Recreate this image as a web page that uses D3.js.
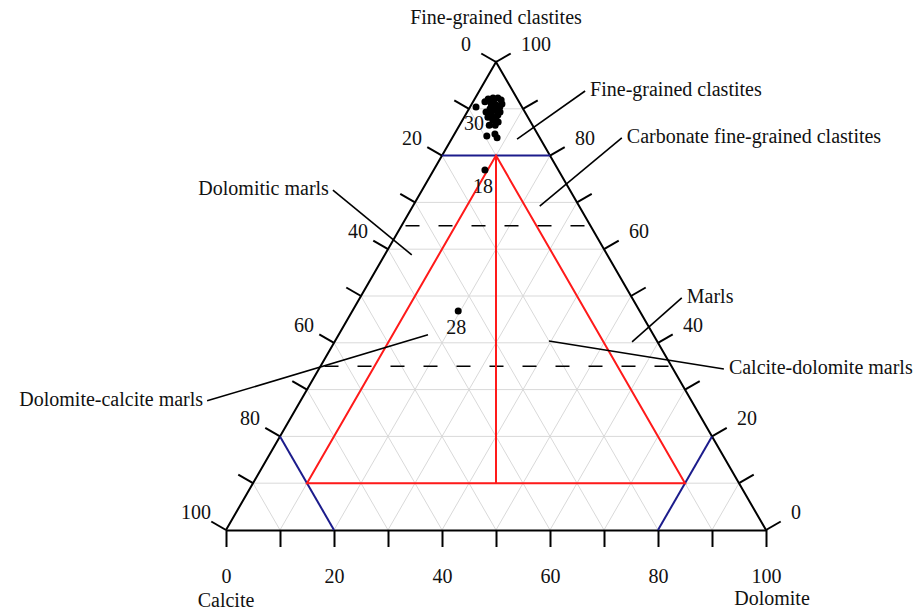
<!DOCTYPE html>
<html>
<head>
<meta charset="utf-8">
<script src="https://cdn.jsdelivr.net/npm/d3@7"></script>
<style>
  body { margin: 0; background: #fff; }
  svg text { font-family: "Liberation Serif", "Times New Roman", serif; font-size: 20px; fill: #111; }
</style>
</head>
<body>
<div id="chart"></div>
<script>
// samples: clastic / dolomite / calcite content (%)
const clastic  = [90.4, 91.5, 92.1, 92.3, 92.3, 91.9, 91.0, 90.8, 90.4, 90.0, 89.7, 89.3, 88.9, 88.2, 88.2,
                  87.6, 87.2, 86.5, 86.5, 84.2, 84.6, 83.8, 91.7, 91.0, 90.2, 88.7, 89.3, 76.9, 46.8];
const dolomite = [1.1, 2.2, 2.5, 3.3, 4.2, 5.0, 3.6, 4.6, 5.5, 3.9, 5.0, 6.1, 4.7, 5.9, 4.4,
                  5.6, 6.8, 6.6, 5.5, 6.2, 7.5, 8.3, 3.7, 5.6, 4.3, 6.0, 3.5, 9.5, 19.6];
const calcite  = [8.5, 6.3, 5.4, 4.4, 3.5, 3.1, 5.4, 4.6, 4.1, 6.1, 5.3, 4.6, 6.4, 5.9, 7.4,
                  6.8, 6.0, 6.9, 8.0, 9.6, 7.9, 7.9, 4.6, 3.4, 5.5, 5.3, 7.2, 13.6, 33.6];
const labelIndex = [0, 27, 28];
const labelText = ['30', '18', '28'];

const bottomTicks = d3.range(0, 101, 10);
const sideTicks = d3.range(0, 101, 10);
const gridSteps = d3.range(10, 100, 10);

// class boundaries
const clastBoundary = 80;        // blue horizontal
const carbonateBoundary = 80;    // blue corner lines (calcite / dolomite)
const dashedClast = [65, 35];
const redApexClast = 80, redBaseClast = 10;

const titleTop = 'Fine-grained clastites';
const titleLeft = 'Calcite';
const titleRight = 'Dolomite';

// annotation leaders in (bottom-axis u, clastic v) coordinates
const annotations = [
  { text: 'Fine-grained clastites', from: [53.9, 83.5], to: [66.5, 93.8], side: 'start' },
  { text: 'Carbonate fine-grained clastites', from: [58.1, 69.2], to: [73.3, 83.8], side: 'start' },
  { text: 'Dolomitic marls', from: [34.4, 58.8], to: [19.8, 72.6], side: 'end' },
  { text: 'Marls', from: [75.2, 40.2], to: [84.4, 49.6], side: 'start' },
  { text: 'Calcite-dolomite marls', from: [59.8, 40.4], to: [92.2, 34.4], side: 'start' },
  { text: 'Dolomite-calcite marls', from: [37.4, 41.7], to: [-3.5, 27.6], side: 'end' }
];

const W = 922, H = 612;
const svg = d3.select('#chart').append('svg').attr('width', W).attr('height', H);

const x = d3.scaleLinear().domain([0, 100]).range([226, 766]);
const y = d3.scaleLinear().domain([0, 100]).range([530, 62]);

// ternary -> screen (clastic at top, dolomite at right, calcite at left)
const proj = (cl, dol) => [x(dol + cl / 2), y(cl)];
const line = d3.line();

// grid
const grid = svg.append('g').attr('stroke', '#d9d9d9').attr('stroke-width', 1).attr('fill', 'none');
gridSteps.forEach(k => {
  grid.append('path').attr('d', line([proj(k, 0), proj(k, 100 - k)]));
  grid.append('path').attr('d', line([proj(0, k), proj(100 - k, k)]));
  grid.append('path').attr('d', line([proj(0, 100 - k), proj(100 - k, 0)]));
});

// frame
svg.append('path')
  .attr('d', line([proj(0, 0), proj(100, 0), proj(0, 100)]))
  .attr('fill', 'none').attr('stroke', '#000').attr('stroke-width', 2);

// bottom axis
const axis = svg.append('g')
  .attr('transform', 'translate(0,' + y(0) + ')')
  .call(d3.axisBottom(x).tickValues(bottomTicks).tickSize(17).tickSizeOuter(0).tickPadding(22)
    .tickFormat(d => d % 20 === 0 ? d : ''));
axis.selectAll('line').attr('stroke', '#000').attr('stroke-width', 2);
axis.select('.domain').attr('stroke', '#000').attr('stroke-width', 2);
axis.selectAll('text').style('font-family', '"Liberation Serif", "Times New Roman", serif')
  .style('font-size', '20px').attr('fill', '#111');

// side ticks
const tickLen = 17;
const nL = [-Math.cos(Math.PI / 6), -0.5], nR = [Math.cos(Math.PI / 6), -0.5];
const ticks = svg.append('g').attr('stroke', '#000').attr('stroke-width', 2);
sideTicks.forEach(t => {
  const pl = proj(100 - t, 0);
  ticks.append('line').attr('x1', pl[0]).attr('y1', pl[1])
    .attr('x2', pl[0] + nL[0] * tickLen).attr('y2', pl[1] + nL[1] * tickLen);
  const pr = proj(t, 100 - t);
  ticks.append('line').attr('x1', pr[0]).attr('y1', pr[1])
    .attr('x2', pr[0] + nR[0] * tickLen).attr('y2', pr[1] + nR[1] * tickLen);
  if (t % 20 === 0) {
    svg.append('text').attr('x', pl[0] - 30).attr('y', pl[1] - 18).attr('dy', '0.35em')
      .attr('text-anchor', 'middle').text(t);
    svg.append('text').attr('x', pr[0] + 25).attr('y', pr[1] - 18).attr('dy', '0.35em')
      .attr('text-anchor', 'start').text(t);
  }
});

// dashed boundaries
dashedClast.forEach(c => {
  svg.append('path').attr('d', line([proj(c, 0), proj(c, 100 - c)]))
    .attr('stroke', '#000').attr('stroke-width', 1.6).attr('stroke-dasharray', '14,19')
    .attr('fill', 'none').attr('stroke-dashoffset', -4);
});

// blue boundaries
const blue = svg.append('g').attr('stroke', '#1c1c8c').attr('stroke-width', 2).attr('fill', 'none');
blue.append('path').attr('d', line([proj(clastBoundary, 0), proj(clastBoundary, 100 - clastBoundary)]));
blue.append('path').attr('d', line([proj(100 - carbonateBoundary, 0), proj(0, 100 - carbonateBoundary)]));
blue.append('path').attr('d', line([proj(100 - carbonateBoundary, carbonateBoundary), proj(0, carbonateBoundary)]));

// red inner triangle
const half = (100 - redApexClast) / 2;
const red = svg.append('g').attr('stroke', '#ff1a1a').attr('stroke-width', 2).attr('fill', 'none');
red.append('path').attr('d', line([
  proj(redApexClast, half),
  proj(redBaseClast, 100 - redBaseClast - carbonateBoundary),
  proj(redBaseClast, carbonateBoundary)
]) + 'Z');
red.append('path').attr('d', line([proj(redApexClast, half), proj(redBaseClast, (100 - redBaseClast) / 2)]));

// annotation leaders
annotations.forEach(a => {
  const p0 = [x(a.from[0]), y(a.from[1])], p1 = [x(a.to[0]), y(a.to[1])];
  svg.append('path').attr('d', line([p0, p1])).attr('stroke', '#000').attr('stroke-width', 1.6);
  svg.append('text')
    .attr('x', p1[0] + (a.side === 'start' ? 5 : -4)).attr('y', p1[1] + 5)
    .attr('text-anchor', a.side).text(a.text);
});

// samples
const samples = clastic.map((c, i) => ({ c, d: dolomite[i], ca: calcite[i] }));
svg.append('g').selectAll('circle').data(samples).join('circle')
  .attr('cx', s => proj(s.c, s.d)[0]).attr('cy', s => proj(s.c, s.d)[1])
  .attr('r', 3.5).attr('fill', '#000');
labelIndex.forEach((i, k) => {
  const p = proj(clastic[i], dolomite[i]);
  svg.append('text').attr('x', p[0] - 2).attr('y', p[1] + 23).attr('text-anchor', 'middle').text(labelText[k]);
});

// titles
svg.append('text').attr('x', x(50)).attr('y', 24).attr('text-anchor', 'middle').text(titleTop);
svg.append('text').attr('x', x(0)).attr('y', 607).attr('text-anchor', 'middle').text(titleLeft);
svg.append('text').attr('x', x(100) + 6).attr('y', 605).attr('text-anchor', 'middle').text(titleRight);
</script>
</body>
</html>
